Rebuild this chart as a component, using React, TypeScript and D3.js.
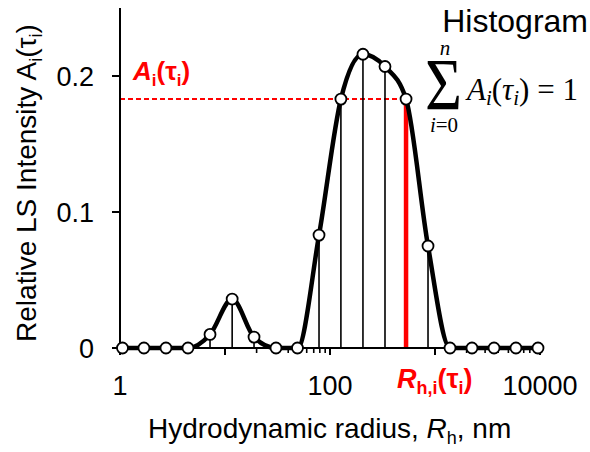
import React from "react";
import * as d3 from "d3";

// Data
const radii = [1.056, 1.69, 2.74, 4.44, 7.2, 11.7, 18.9, 30.6, 49.0, 78.6, 127, 206, 334, 530, 858, 1390, 2250, 3650, 5900, 9570];
const intensities = [0, 0, 0, 0, 0.01, 0.036, 0.008, 0, 0, 0.083, 0.183, 0.216, 0.207, 0.183, 0.075, 0, 0, 0, 0, 0];
const highlightIndex = 13;
const xMajorTicks = [1, 10, 100, 1000, 10000];
const xLabelTicks = [1, 100, 10000];
const xMinorTicks = [20, 30, 40, 50, 60, 70, 80, 90, 2000, 3000, 4000, 5000, 6000, 7000, 8000, 9000];
const yTicks = [0, 0.1, 0.2];
const yTickLabels = ["0", "0.1", "0.2"];

const W = 590;
const H = 452;
const SANS = "'Liberation Sans', Arial, sans-serif";
const SERIF = "'Liberation Serif', 'Times New Roman', serif";
const RED = "#ff0000";

export default function App() {
  const x = d3.scaleLog().domain([1, 10000]).range([120, 540]);
  const y = d3.scaleLinear().domain([0, 0.25]).range([348, 8]);
  const pts = radii.map((r, i) => ({ r, v: intensities[i], i }));
  const line = d3
    .line<{ r: number; v: number }>()
    .x((d) => x(d.r))
    .y((d) => y(d.v))
    .curve(d3.curveMonotoneX);
  const hl = pts[highlightIndex];
  const y0 = y(0);

  return (
    <svg
      width={W}
      height={H}
      style={{ position: "absolute", left: 0, top: 0, background: "#fff" }}
    >
      {/* red dashed level */}
      <line x1={x(1)} x2={x(hl.r)} y1={y(hl.v)} y2={y(hl.v)} stroke={RED} strokeWidth={2} strokeDasharray="5,3" />
      {/* stems */}
      {pts
        .filter((d) => d.v > 0 && d.i !== highlightIndex)
        .map((d) => (
          <line key={"s" + d.i} x1={x(d.r)} x2={x(d.r)} y1={y(d.v)} y2={y0} stroke="#000" strokeWidth={1.6} />
        ))}
      <line x1={x(hl.r)} x2={x(hl.r)} y1={y(hl.v)} y2={y0} stroke={RED} strokeWidth={4.5} />

      {/* axes */}
      <line x1={120} x2={120} y1={y(0.25)} y2={y0} stroke="#000" strokeWidth={2} />
      <line x1={112} x2={542} y1={y0} y2={y0} stroke="#000" strokeWidth={2} />
      {yTicks.map((t, i) => (
        <g key={"yt" + i}>
          <line x1={112} x2={120} y1={y(t)} y2={y(t)} stroke="#000" strokeWidth={2} />
          <text x={94} y={y(t) + 9.5} textAnchor="end" fontFamily={SANS} fontSize={27} fill="#000">
            {yTickLabels[i]}
          </text>
        </g>
      ))}
      {xMajorTicks.map((t) => (
        <line key={"xm" + t} x1={x(t)} x2={x(t)} y1={y0} y2={y0 + 7} stroke="#000" strokeWidth={2} />
      ))}
      {xMinorTicks.map((t) => (
        <line key={"xn" + t} x1={x(t)} x2={x(t)} y1={y0} y2={y0 + 5} stroke="#000" strokeWidth={1.6} />
      ))}
      {xLabelTicks.map((t) => (
        <text key={"xl" + t} x={x(t)} y={395} textAnchor="middle" fontFamily={SANS} fontSize={27} fill="#000">
          {String(t)}
        </text>
      ))}

      {/* curve */}
      <path d={line(pts) || ""} fill="none" stroke="#000" strokeWidth={4.5} strokeLinejoin="round" />
      {pts.map((d) => (
        <circle key={"c" + d.i} cx={x(d.r)} cy={y(d.v)} r={5.5} fill="#fff" stroke="#000" strokeWidth={1.8} />
      ))}

      {/* axis titles */}
      <text
        transform="translate(36,183) rotate(-90)"
        textAnchor="middle"
        fontFamily={SANS}
        fontSize={28}
        fill="#000"
      >
        Relative LS Intensity A
        <tspan fontSize={18} dy={6}>i</tspan>
        <tspan dy={-6}>(τ</tspan>
        <tspan fontSize={18} dy={6}>i</tspan>
        <tspan dy={-6}>)</tspan>
      </text>
      <text x={148} y={438} fontFamily={SANS} fontSize={28} fill="#000">
        Hydrodynamic radius, <tspan fontStyle="italic">R</tspan>
        <tspan fontSize={18} dy={6}>h</tspan>
        <tspan dy={-6}>, nm</tspan>
      </text>

      {/* red labels */}
      <text x={133} y={80} fontFamily={SANS} fontSize={26} fontWeight="bold" fill={RED}>
        <tspan fontStyle="italic">A</tspan>
        <tspan fontSize={17} dy={6}>i</tspan>
        <tspan dy={-6}>(τ</tspan>
        <tspan fontSize={17} dy={6}>i</tspan>
        <tspan dy={-6}>)</tspan>
      </text>
      <text x={397} y={388} fontFamily={SANS} fontSize={27} fontWeight="bold" fill={RED}>
        <tspan fontStyle="italic">R</tspan>
        <tspan fontSize={18} dy={6}>h,i</tspan>
        <tspan dy={-6}>(τ</tspan>
        <tspan fontSize={18} dy={6}>i</tspan>
        <tspan dy={-6}>)</tspan>
      </text>

      {/* Histogram + formula */}
      <text x={588} y={32} textAnchor="end" fontFamily={SANS} fontSize={32} fill="#000">
        Histogram
      </text>
      <text x={425} y={110} fontFamily={SERIF} fontSize={75} fill="#000" textLength={37} lengthAdjust="spacingAndGlyphs">
        Σ
      </text>
      <text x={445} y={55} textAnchor="middle" fontFamily={SERIF} fontStyle="italic" fontSize={21} fill="#000">
        n
      </text>
      <text x={444} y={132} textAnchor="middle" fontFamily={SERIF} fontSize={21} fill="#000">
        <tspan fontStyle="italic">i</tspan>=0
      </text>
      <text x={467} y={100} fontFamily={SERIF} fontSize={31} fill="#000">
        <tspan fontStyle="italic">A</tspan>
        <tspan fontStyle="italic" fontSize={21} dy={5}>i</tspan>
        <tspan dy={-5}>(</tspan>
        <tspan fontStyle="italic">τ</tspan>
        <tspan fontStyle="italic" fontSize={21} dy={5}>i</tspan>
        <tspan dy={-5}>){"\u2005"}={"\u2005"}1</tspan>
      </text>
    </svg>
  );
}
